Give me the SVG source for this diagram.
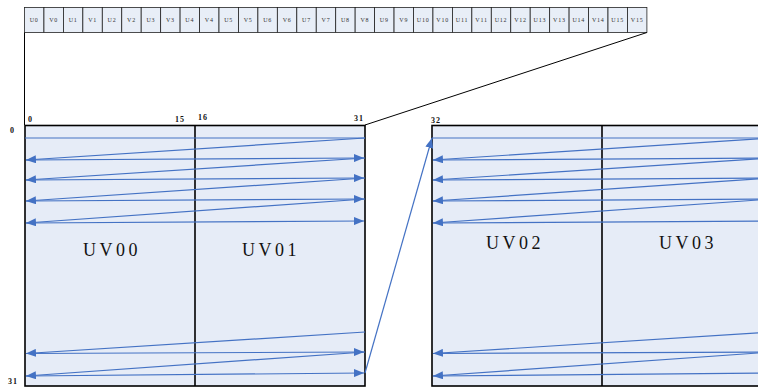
<svg xmlns="http://www.w3.org/2000/svg" width="758" height="387" viewBox="0 0 758 387">
<defs>
<style>
.cell{fill:#E8EEF7;stroke:#222;stroke-width:0.8}
.ct{font-family:"Liberation Serif",serif;font-size:6px;fill:#333;text-anchor:middle;letter-spacing:0.8px}
.box{fill:#E6ECF7;stroke:#000;stroke-width:1.6}
.div{stroke:#000;stroke-width:1.6}
.lbl{font-family:"Liberation Serif",serif;font-size:18px;fill:#111;text-anchor:middle;letter-spacing:3.5px}
.num{font-family:"Liberation Serif",serif;font-size:8px;font-weight:bold;fill:#111;letter-spacing:1px}
.bl{stroke:#000;stroke-width:1;fill:none}
.a{stroke:#4472C4;stroke-width:1.2;fill:none;marker-end:url(#ah)}
.n{stroke:#4472C4;stroke-width:1.2;fill:none}
</style>
<marker id="ah" markerUnits="userSpaceOnUse" markerWidth="12" markerHeight="8" refX="10" refY="4" orient="auto">
<path d="M0,0 L10,4 L0,8 Z" fill="#4472C4"/>
</marker>
</defs>
<rect width="758" height="387" fill="#fff"/>
<g id="strip">
<rect class="cell" x="24.5" y="7.5" width="19.45" height="25"/><text class="ct" x="34.2" y="22">U0</text>
<rect class="cell" x="43.95" y="7.5" width="19.45" height="25"/><text class="ct" x="53.7" y="22">V0</text>
<rect class="cell" x="63.4" y="7.5" width="19.45" height="25"/><text class="ct" x="73.1" y="22">U1</text>
<rect class="cell" x="82.85" y="7.5" width="19.45" height="25"/><text class="ct" x="92.6" y="22">V1</text>
<rect class="cell" x="102.3" y="7.5" width="19.45" height="25"/><text class="ct" x="112" y="22">U2</text>
<rect class="cell" x="121.75" y="7.5" width="19.45" height="25"/><text class="ct" x="131.5" y="22">V2</text>
<rect class="cell" x="141.2" y="7.5" width="19.45" height="25"/><text class="ct" x="150.9" y="22">U3</text>
<rect class="cell" x="160.65" y="7.5" width="19.45" height="25"/><text class="ct" x="170.4" y="22">V3</text>
<rect class="cell" x="180.1" y="7.5" width="19.45" height="25"/><text class="ct" x="189.8" y="22">U4</text>
<rect class="cell" x="199.55" y="7.5" width="19.45" height="25"/><text class="ct" x="209.3" y="22">V4</text>
<rect class="cell" x="219" y="7.5" width="19.45" height="25"/><text class="ct" x="228.7" y="22">U5</text>
<rect class="cell" x="238.45" y="7.5" width="19.45" height="25"/><text class="ct" x="248.2" y="22">V5</text>
<rect class="cell" x="257.9" y="7.5" width="19.45" height="25"/><text class="ct" x="267.6" y="22">U6</text>
<rect class="cell" x="277.35" y="7.5" width="19.45" height="25"/><text class="ct" x="287.1" y="22">V6</text>
<rect class="cell" x="296.8" y="7.5" width="19.45" height="25"/><text class="ct" x="306.5" y="22">U7</text>
<rect class="cell" x="316.25" y="7.5" width="19.45" height="25"/><text class="ct" x="326" y="22">V7</text>
<rect class="cell" x="335.7" y="7.5" width="19.45" height="25"/><text class="ct" x="345.4" y="22">U8</text>
<rect class="cell" x="355.15" y="7.5" width="19.45" height="25"/><text class="ct" x="364.9" y="22">V8</text>
<rect class="cell" x="374.6" y="7.5" width="19.45" height="25"/><text class="ct" x="384.3" y="22">U9</text>
<rect class="cell" x="394.05" y="7.5" width="19.45" height="25"/><text class="ct" x="403.8" y="22">V9</text>
<rect class="cell" x="413.5" y="7.5" width="19.45" height="25"/><text class="ct" x="423.2" y="22">U10</text>
<rect class="cell" x="432.95" y="7.5" width="19.45" height="25"/><text class="ct" x="442.7" y="22">V10</text>
<rect class="cell" x="452.4" y="7.5" width="19.45" height="25"/><text class="ct" x="462.1" y="22">U11</text>
<rect class="cell" x="471.85" y="7.5" width="19.45" height="25"/><text class="ct" x="481.6" y="22">V11</text>
<rect class="cell" x="491.3" y="7.5" width="19.45" height="25"/><text class="ct" x="501" y="22">U12</text>
<rect class="cell" x="510.75" y="7.5" width="19.45" height="25"/><text class="ct" x="520.5" y="22">V12</text>
<rect class="cell" x="530.2" y="7.5" width="19.45" height="25"/><text class="ct" x="539.9" y="22">U13</text>
<rect class="cell" x="549.65" y="7.5" width="19.45" height="25"/><text class="ct" x="559.4" y="22">V13</text>
<rect class="cell" x="569.1" y="7.5" width="19.45" height="25"/><text class="ct" x="578.8" y="22">U14</text>
<rect class="cell" x="588.55" y="7.5" width="19.45" height="25"/><text class="ct" x="598.3" y="22">V14</text>
<rect class="cell" x="608" y="7.5" width="19.45" height="25"/><text class="ct" x="617.7" y="22">U15</text>
<rect class="cell" x="627.45" y="7.5" width="19.45" height="25"/><text class="ct" x="637.2" y="22">V15</text>
</g>
<g id="zoom-lines">
<line class="bl" x1="24.5" y1="32.5" x2="24.5" y2="125"/>
<line class="bl" x1="646.9" y1="32.5" x2="365" y2="125"/>
</g>
<g id="block1">
<rect class="box" x="25" y="125.5" width="340" height="260.5"/>
<line class="div" x1="195" y1="125.5" x2="195" y2="386"/>
<text class="lbl" x="112" y="256">UV00</text>
<text class="lbl" x="271" y="256">UV01</text>
</g>
<g id="block2">
<rect class="box" x="432" y="125.5" width="340" height="260.5"/>
<line class="div" x1="602" y1="125.5" x2="602" y2="386"/>
<text class="lbl" x="515" y="249">UV02</text>
<text class="lbl" x="688" y="249">UV03</text>
</g>
<g id="axis-labels">
<text class="num" x="28" y="122">0</text>
<text class="num" x="175" y="122">15</text>
<text class="num" x="198" y="120">16</text>
<text class="num" x="354" y="121">31</text>
<text class="num" x="431" y="123">32</text>
<text class="num" x="10" y="133">0</text>
<text class="num" x="8" y="384">31</text>
</g>
<g id="connectors">
<path class="n" d="M25,138 H365"/>
<path class="a" d="M365,138 L26,160"/>
<path class="a" d="M26,160 L364,158"/>
<path class="a" d="M365,158 L26,180"/>
<path class="a" d="M26,180 L364,178"/>
<path class="a" d="M365,178 L26,201"/>
<path class="a" d="M26,201 L364,199"/>
<path class="a" d="M365,199 L26,223"/>
<path class="a" d="M26,223 L364,221"/>
<path class="a" d="M365,332 L26,353.5"/>
<path class="a" d="M26,353.5 L364,352"/>
<path class="a" d="M365,352 L26,376"/>
<path class="a" d="M26,376 L364,373"/>
<path class="a" d="M365,373 L432,138"/>
<path class="n" d="M432,138 H772"/>
<path class="a" d="M772,138 L433,160"/>
<path class="a" d="M433,160 L771,158"/>
<path class="a" d="M772,158 L433,180"/>
<path class="a" d="M433,180 L771,178"/>
<path class="a" d="M772,178 L433,201"/>
<path class="a" d="M433,201 L771,199"/>
<path class="a" d="M772,199 L433,223"/>
<path class="a" d="M433,223 L771,221"/>
<path class="a" d="M772,332 L433,353.5"/>
<path class="a" d="M433,353.5 L771,352"/>
<path class="a" d="M772,352 L433,376"/>
<path class="a" d="M433,376 L771,373"/>
</g>
</svg>
